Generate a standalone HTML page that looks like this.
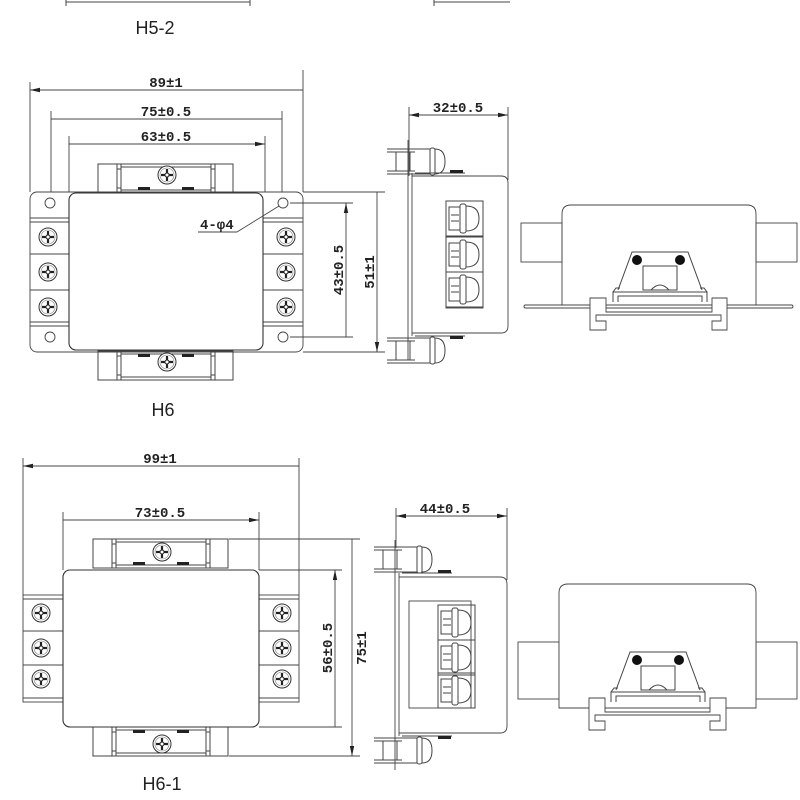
<!DOCTYPE html>
<html><head><meta charset="utf-8"><style>
html,body{margin:0;padding:0;background:#fff}
svg{display:block}
text{font-family:"Liberation Sans",sans-serif;fill:#222}
.d{font-family:"Liberation Mono",monospace;font-size:14px;font-weight:bold}
</style></head><body>
<svg width="800" height="800" viewBox="0 0 800 800" xmlns="http://www.w3.org/2000/svg">
<defs>
<marker id="a" viewBox="0 0 10 6" refX="10" refY="3" markerWidth="10" markerHeight="6" orient="auto-start-reverse" markerUnits="userSpaceOnUse"><path d="M0,0.8 L10,3 L0,5.2z" fill="#222"/></marker>
<g id="sc"><circle r="9" fill="#fff" stroke="#333" stroke-width="1"/><circle r="7" fill="none" stroke="#777" stroke-width="0.6"/><path d="M-6,0H6M0,-6V6" stroke="#222" stroke-width="2.2"/><circle r="2" fill="#fff" stroke="#222" stroke-width="1"/></g>
<g id="clamp" fill="none" stroke="#444" stroke-width="1">
<rect x="0" y="0" width="135" height="29"/>
<path d="M19,0V29M23,0V29M113,0V29M117,0V29M23,3H113M23,26H113"/>
<path d="M19,5H23M19,24H23M113,5H117M113,24H117"/>
<rect x="40" y="23" width="12" height="3" fill="#222" stroke="none"/>
<rect x="84" y="23" width="12" height="3" fill="#222" stroke="none"/>
</g>
<g id="clip" fill="none" stroke="#444" stroke-width="1">
<path d="M0,0H28M0,3H28M0,22H28M0,25H28"/>
<rect x="9" y="3" width="14" height="19"/>
<path d="M28,0H43V25H28"/>
<rect x="43" y="-1" width="5" height="27" rx="2"/>
<path d="M48,0 q10,0 10,12.5 q0,12.5 -10,12.5"/>
</g>
<g id="term" fill="none" stroke="#444" stroke-width="1">
<rect x="0" y="0" width="37" height="35"/>
<path d="M3,6H14V29H3z"/>
<path d="M5,14H13M5,20H13"/>
<rect x="14" y="3" width="6" height="29" rx="2"/>
<path d="M20,5 q13,0 13,12.5 q0,12.5 -13,12.5"/>
</g>
<g id="front" fill="none" stroke="#444" stroke-width="1">
<path d="M-14,38 L0,0 H56 L70,38"/>
<path d="M11,14 H45 V38 H11z"/>
<path d="M19,38 q9,-10 18,0"/>
<path d="M-19,50 V40 H75 V50 M-14,50 V44 H70 V50"/>
<path d="M-19,40 L-16,36 H-12 M75,40 L72,36 H68"/>
</g>
</defs>

<g stroke="#444" stroke-width="1" fill="none">
<path d="M66,0V6M250,0V6M66,2H250M434,0V6M434,2H510"/>
</g>
<text x="155" y="34" font-size="18" text-anchor="middle">H5-2</text>

<g stroke="#444" stroke-width="0.9" fill="none">
<path d="M30,82V192M303,70V192M51,111V198M282,111V198M69,136V193M265,136V193"/>
<path d="M30,90H303M51,119H282M69,144H265" marker-start="url(#a)" marker-end="url(#a)"/>
<rect x="30" y="192" width="273" height="160" rx="7" fill="#fff" stroke="#444"/>
<path d="M30,218H69M30,222H69M30,254H69M30,290H69M30,322H69M30,326H69"/>
<path d="M263,218H303M263,222H303M263,254H303M263,290H303M263,322H303M263,326H303"/>
<circle cx="50" cy="203" r="5"/><circle cx="50" cy="337" r="5"/><circle cx="283" cy="203" r="5"/><circle cx="283" cy="337" r="5"/>
</g>
<use href="#clamp" x="98" y="164"/>
<use href="#clamp" transform="translate(98,380) scale(1,-1)"/>
<rect x="69" y="193" width="194" height="157" rx="7" fill="#fff" stroke="#333" stroke-width="1.1"/>
<use href="#sc" x="167" y="175"/><use href="#sc" x="167" y="362"/>
<use href="#sc" x="48" y="237"/><use href="#sc" x="48" y="272"/><use href="#sc" x="48" y="307"/>
<use href="#sc" x="286" y="237"/><use href="#sc" x="286" y="272"/><use href="#sc" x="286" y="307"/>
<g stroke="#444" stroke-width="0.9" fill="none">
<path d="M237,232H198M237,232L279,206"/>
<path d="M290,203H353M290,337H353M303,192H385M303,352H385"/>
<path d="M346,203V337M377,192V352" marker-start="url(#a)" marker-end="url(#a)"/>
</g>
<text x="200" y="229" class="d" font-size="13">4-φ4</text>
<text class="d" transform="translate(343,270) rotate(-90)" text-anchor="middle">43±0.5</text>
<text class="d" transform="translate(374,272) rotate(-90)" text-anchor="middle">51±1</text>
<text x="166" y="87" class="d" text-anchor="middle">89±1</text>
<text x="166" y="116" class="d" text-anchor="middle">75±0.5</text>
<text x="166" y="141" class="d" text-anchor="middle">63±0.5</text>
<text x="163" y="416" font-size="18" text-anchor="middle">H6</text>

<g stroke="#444" stroke-width="0.9" fill="none">
<path d="M409,107V176M508,107V180"/>
<path d="M409,115H508" marker-start="url(#a)" marker-end="url(#a)"/>
<path d="M408,140V360M412,173V336"/>
<path d="M412,176H501Q508,176 508,183V326Q508,333 501,333H412"/>
<rect x="446" y="201" width="37" height="107"/>
<path d="M415,173H465M415,336H465"/>
</g>
<rect x="450" y="170" width="13" height="3" fill="#222"/>
<rect x="450" y="336" width="13" height="3" fill="#222"/>
<use href="#clip" x="387" y="149"/>
<use href="#clip" x="387" y="338"/>
<use href="#term" x="446" y="201"/><use href="#term" x="446" y="237"/><use href="#term" x="446" y="272"/>
<text x="458" y="112" class="d" text-anchor="middle">32±0.5</text>

<g stroke="#444" stroke-width="0.9" fill="none">
<rect x="521" y="223" width="41" height="39"/>
<rect x="756" y="223" width="41" height="39"/>
<path d="M562,305V214Q562,205 571,205H747Q756,205 756,214V305"/>
<rect x="524" y="305" width="269" height="3" rx="1.5"/>
<path d="M590,330V298H606V312H712V298H727V330H712V321H721V315H596V321H606V330Z" fill="#fff"/>
</g>
<use href="#front" x="632" y="252"/>
<circle cx="637" cy="260" r="5" fill="#111"/><circle cx="680" cy="260" r="5" fill="#111"/>

<g stroke="#444" stroke-width="0.9" fill="none">
<path d="M23,458V595M299,458V595M63,512V570M259,512V570"/>
<path d="M23,466H299M63,520H259" marker-start="url(#a)" marker-end="url(#a)"/>
<rect x="23" y="595" width="276" height="107" fill="#fff"/>
<path d="M23,599H63M23,631H63M23,665H63M23,698H63M259,599H299M259,631H299M259,665H299M259,698H299"/>
</g>
<use href="#clamp" x="93" y="539"/>
<use href="#clamp" transform="translate(93,756) scale(1,-1)"/>
<rect x="63" y="570" width="196" height="157" rx="7" fill="#fff" stroke="#333" stroke-width="1.1"/>
<use href="#sc" x="162" y="552"/><use href="#sc" x="162" y="744"/>
<use href="#sc" x="41" y="613"/><use href="#sc" x="41" y="648"/><use href="#sc" x="41" y="679"/>
<use href="#sc" x="282" y="613"/><use href="#sc" x="282" y="648"/><use href="#sc" x="282" y="679"/>
<g stroke="#444" stroke-width="0.9" fill="none">
<path d="M259,570H342M259,727H342M229,539H360M229,756H360"/>
<path d="M335,570V727M352,539V756" marker-start="url(#a)" marker-end="url(#a)"/>
</g>
<text class="d" transform="translate(332,648) rotate(-90)" text-anchor="middle">56±0.5</text>
<text class="d" transform="translate(366,648) rotate(-90)" text-anchor="middle">75±1</text>
<text x="160" y="463" class="d" text-anchor="middle">99±1</text>
<text x="160" y="517" class="d" text-anchor="middle">73±0.5</text>
<text x="162" y="790" font-size="18" text-anchor="middle">H6-1</text>

<g stroke="#444" stroke-width="0.9" fill="none">
<path d="M396,508V548M507,508V580"/>
<path d="M396,516H507" marker-start="url(#a)" marker-end="url(#a)"/>
<path d="M395,540V770M399,573V736"/>
<path d="M399,577H500Q507,577 507,584V726Q507,733 500,733H399"/>
<rect x="409" y="601" width="62" height="107"/>
<path d="M402,573H452M402,736H452"/>
</g>
<rect x="438" y="570" width="13" height="3" fill="#222"/>
<rect x="438" y="736" width="13" height="3" fill="#222"/>
<use href="#clip" x="374" y="547"/>
<use href="#clip" x="374" y="738"/>
<use href="#term" x="438" y="605"/><use href="#term" x="438" y="640"/><use href="#term" x="438" y="673"/>
<text x="445" y="513" class="d" text-anchor="middle">44±0.5</text>

<g stroke="#444" stroke-width="0.9" fill="none">
<rect x="518" y="642" width="41" height="57"/>
<rect x="756" y="642" width="41" height="57"/>
<path d="M559,708V593Q559,584 568,584H747Q756,584 756,593V708Z" fill="#fff"/>
<path d="M589,730V698H605V712H710V698H726V730H710V721H720V715H595V721H605V730Z" fill="#fff"/>
</g>
<use href="#front" x="630" y="652"/>
<circle cx="637" cy="660" r="5" fill="#111"/><circle cx="679" cy="660" r="5" fill="#111"/>
</svg>
</body></html>
